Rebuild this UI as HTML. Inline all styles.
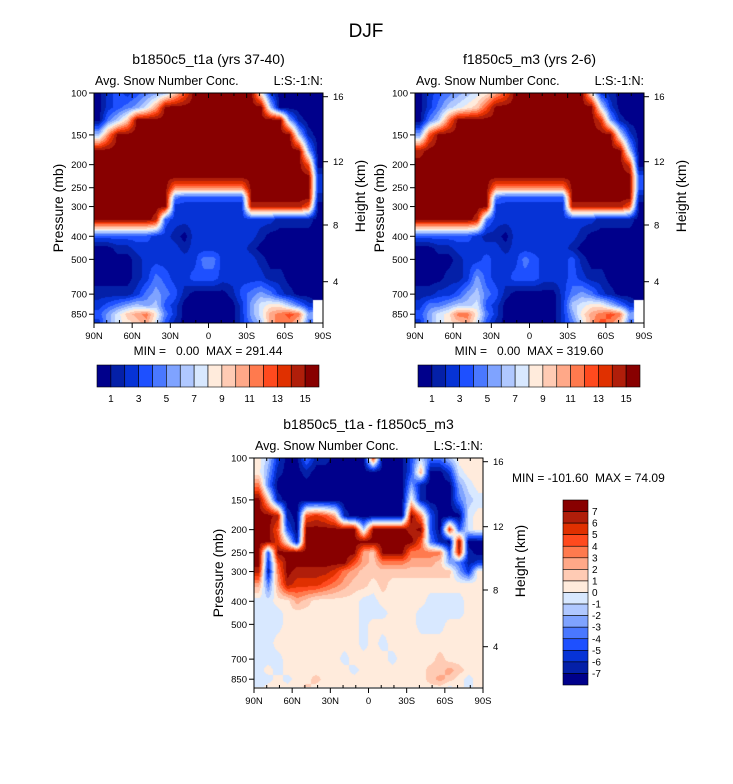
<!DOCTYPE html>
<html><head><meta charset="utf-8">
<style>
html,body{margin:0;padding:0;background:#fff;}
#wrap{position:relative;width:733px;height:784px;overflow:hidden;}
canvas{position:absolute;}
svg{position:absolute;left:0;top:0;display:block;font-family:"Liberation Sans",Arial,sans-serif;}
</style></head>
<body>
<div id="wrap">
<canvas id="cvA" width="229" height="230" style="left:94px;top:93px"></canvas>
<canvas id="cvB" width="229" height="230" style="left:415px;top:93px"></canvas>
<canvas id="cvC" width="229" height="229" style="left:254px;top:458px"></canvas>
<svg id="fig" width="733" height="784" viewBox="0 0 733 784" xmlns="http://www.w3.org/2000/svg">
<text x="366" y="37" font-size="19" text-anchor="middle">DJF</text>
</svg>
</div>
<script>
// ---- data ----
const levels=[100,115,130,150,175,200,225,250,275,300,340,400,450,500,600,700,780,850,925];
const latTicks=["90N","60N","30N","0","30S","60S","90S"];
const pressTicks=[100,150,200,250,300,400,500,700,850];
const heightTicks=["16","12","8","4"];
const cbarLabelsTop=["1","3","5","7","9","11","13","15"];
const cbarLabelsDiff=["7","6","5","4","3","2","1","0","-1","-2","-3","-4","-5","-6","-7"];
const palette=["#00008b","#0420a8","#0633d6","#1e50ff","#4a78ff","#7fa3ff","#b0c8ff","#d8e8ff","#ffebdc","#ffcbb4","#ffa888","#ff7a4e","#ff4a1e","#e03000","#b01e0a","#880000"];
// bin index per cell (hex), '-' = missing; rows follow levels, 24 cols 90N->90S
const gridA=[
"023234569cfffffff8200000",
"023457afffffffffff600000",
"0469ffffffffffffffff5100",
"6bfffffffffffffffffff610",
"ffffffffffffffffffffff50",
"ffffffffffffffffffffffc0",
"fffffffffffffffffffffff2",
"ffffffffbbbbbbbbfffffff2",
"ffffffff43333333fffffff1",
"ffffffff22222222eeeeeec0",
"ffffffe32222222222211110",
"333333221022222221000000",
"001122222122222210000000",
"000012222224422221000000",
"000012432233322222110000",
"111124543100001345421000",
"23456563200000025788642-",
"3579ab842000000257abcb5-",
"25789a731000000246abb94-"];
const gridB=[
"02345678acffffffff821000",
"0246789cfffffffffff72000",
"046bfffffffffffffffd5100",
"5cfffffffffffffffffff720",
"efffffffffffffffffffff60",
"ffffffffffffffffffffffd0",
"fffffffffffffffffffffff3",
"ffffffffbbbbbbbbfffffff3",
"ffffffff43333333fffffff1",
"ffffffff22222222eeeeeec0",
"ffffffe42222222222211110",
"333333211022222221000000",
"001122222122222210000000",
"000012232224322231000000",
"000112532233322232110000",
"112235643100000245421000",
"24456673200000026788642-",
"3578bb842000000258abcb5-",
"25789a731000000247acb94-"];
const gridC=[
"862004110000d00036446888",
"85100100000000003a002788",
"b40000000000000051000578",
"f91000000000000081000467",
"ffe10cdca1000000fb300078",
"ffc30ffffff6ffffef30d378",
"ffd81ffffffffffffc410f00",
"f3fffffffffa9fffbbbb3e10",
"f2cfffffffca9bbbaaa95412",
"e1bfeeeedba9999999999528",
"a4aedddcba99898888888888",
"7788a9888887788888777788",
"777888888887778887777788",
"777888888887888887778888",
"778888888887878888888888",
"777888888788887888898888",
"78788888887888888899a988",
"7787889888888888889a9878",
"788889888888888888887878"];
const minmaxA="MIN =   0.00  MAX = 291.44";
const minmaxB="MIN =   0.00  MAX = 319.60";
const minmaxC="MIN = -101.60  MAX = 74.09";

// ---- drawing ----
const NS="http://www.w3.org/2000/svg";
const svg=document.getElementById('fig');
function mk(tag,attrs,parent){const e=document.createElementNS(NS,tag);for(const k in attrs)e.setAttribute(k,attrs[k]);(parent||svg).appendChild(e);return e;}
function txt(s,attrs,parent){const e=mk('text',attrs,parent);e.textContent=s;return e;}
const K=238, PW=229, PH=230;
const heightOffsets=[3.7,68.7,132,188.7];
const rgb=palette.map(h=>[parseInt(h.substr(1,2),16),parseInt(h.substr(3,2),16),parseInt(h.substr(5,2),16)]);
const logLv=levels.map(p=>Math.log10(p));

function fillCanvas(id,grid,w,h){
  const cv=document.getElementById(id), ctx=cv.getContext('2d');
  const img=ctx.createImageData(w,h);
  const vals=grid.map(r=>r.split('').map(ch=>ch==='-'?null:parseInt(ch,16)));
  const ncol=24, cw=PW/ncol;
  for(let py=0;py<h;py++){
    const lp=2+(py+0.5)/K;
    let r=0; while(r<levels.length-2 && logLv[r+1]<lp) r++;
    let fy=(lp-logLv[r])/(logLv[r+1]-logLv[r]); fy=Math.max(0,Math.min(1,fy));
    for(let px=0;px<w;px++){
      let fc=(px+0.5)/cw-0.5; fc=Math.max(0,Math.min(ncol-1,fc));
      const c=Math.min(ncol-2,Math.floor(fc)); const fx=fc-c;
      const a=vals[r][c],b=vals[r][c+1],d=vals[r+1][c],e=vals[r+1][c+1];
      const near=vals[fy<0.5?r:r+1][fx<0.5?c:c+1];
      let col;
      if(near===null){col=[255,255,255];}
      else{
        const q=v=>v===null?near:v;
        const v=(q(a)*(1-fx)+q(b)*fx)*(1-fy)+(q(d)*(1-fx)+q(e)*fx)*fy;
        col=rgb[Math.max(0,Math.min(15,Math.round(v)))];
      }
      const i=(py*w+px)*4; img.data[i]=col[0];img.data[i+1]=col[1];img.data[i+2]=col[2];img.data[i+3]=255;
    }
  }
  ctx.putImageData(img,0,0);
}
fillCanvas('cvA',gridA,229,230);
fillCanvas('cvB',gridB,229,230);
fillCanvas('cvC',gridC,229,229);

function panel(id,x0,y0,title,mm,mmX,mmAnchor,mmY){
  const yp=p=>y0+K*Math.log10(p/100);
  const xl=lat=>x0+(90-lat)/180*PW;
  const g=mk('g',{},svg);
  
  
  mk('rect',{x:x0,y:y0,width:PW,height:PH,fill:'none',stroke:'#000','stroke-width':1},g);
  for(let i=0;i<latTicks.length;i++){
    const lat=90-30*i, x=xl(lat);
    mk('line',{x1:x,x2:x,y1:y0+PH,y2:y0+PH+5,stroke:'#000'},g);
    mk('line',{x1:x,x2:x,y1:y0,y2:y0+5,stroke:'#000'},g);
    const t=txt(latTicks[i],{x:x,y:y0+PH+16,'font-size':9.5,'text-anchor':'middle'},g);
    
    
  }
  for(let lat=80;lat>-90;lat-=10){ if(lat%30===0)continue; const x=xl(lat);
    mk('line',{x1:x,x2:x,y1:y0+PH,y2:y0+PH-3,stroke:'#000'},g);
    mk('line',{x1:x,x2:x,y1:y0,y2:y0+3,stroke:'#000'},g);}
  for(const p of pressTicks){const y=yp(p);
    mk('line',{x1:x0-5,x2:x0,y1:y,y2:y,stroke:'#000'},g);
    const t=txt(String(p),{x:x0-7,y:y+3.5,'font-size':9.5,'text-anchor':'end'},g);
    
    }
  for(let i=0;i<heightTicks.length;i++){const y=y0+heightOffsets[i];
    mk('line',{x1:x0+PW,x2:x0+PW+5,y1:y,y2:y,stroke:'#000'},g);
    const t=txt(heightTicks[i],{x:x0+PW+10,y:y+3.5,'font-size':9.5},g);
    
    }
  const cy=y0+PH/2;
  const px=x0-31, hx=x0+PW+42, hy=cy-12;
  const a=txt('Pressure (mb)',{x:px,y:cy,'font-size':14,'text-anchor':'middle',transform:'rotate(-90 '+px+' '+cy+')'},g);
  
  const b=txt('Height (km)',{x:hx,y:hy,'font-size':14,'text-anchor':'middle',transform:'rotate(-90 '+hx+' '+hy+')'},g);
  
  const t1=txt(title,{x:x0+PW/2,y:y0-29,'font-size':14,'text-anchor':'middle'},g);
  
  const t2=txt('Avg. Snow Number Conc.',{x:x0+1,y:y0-8,'font-size':12.5},g);
  
  const t3=txt('L:S:-1:N:',{x:x0+PW,y:y0-8,'font-size':12.5,'text-anchor':'end'},g);
  
  const t4=txt(mm,{x:mmX,y:mmY,'font-size':12,'text-anchor':mmAnchor},g);
  
  t4.style.whiteSpace='pre';
}
panel('left',94,93,'b1850c5_t1a (yrs 37-40)',minmaxA,208,'middle',355);
panel('right',415,93,'f1850c5_m3 (yrs 2-6)',minmaxB,529,'middle',355);
panel('diff',254,458,'b1850c5_t1a - f1850c5_m3',minmaxC,512,'start',482);

function hbar(id,x0,y0,w,h){
  const g=mk('g',{},svg);
  
  
  const bw=w/palette.length;
  palette.forEach((c,i)=>{const r=mk('rect',{x:x0+i*bw,y:y0,width:bw,height:h,fill:c,stroke:'#000','stroke-width':0.6},g);
    });
  cbarLabelsTop.forEach((s,i)=>{const k=1+2*i;
    const t=txt(s,{x:x0+k*bw,y:y0+h+15,'font-size':10,'text-anchor':'middle'},g);
    });
}
hbar('left-colorbar',97,365,222,22);
hbar('right-colorbar',418,365,222,22);
(function(){
  const x0=563,y0=500,w=25,h=185;
  const g=mk('g',{},svg);
  
  
  const bh=h/palette.length;
  for(let i=0;i<palette.length;i++){
    const r=mk('rect',{x:x0,y:y0+i*bh,width:w,height:bh,fill:palette[palette.length-1-i],stroke:'#000','stroke-width':0.6},g);
    
  }
  cbarLabelsDiff.forEach((s,i)=>{
    const t=txt(s,{x:x0+w+4,y:y0+(i+1)*bh+3.5,'font-size':10},g);
    });
})();
</script>
</body></html>
